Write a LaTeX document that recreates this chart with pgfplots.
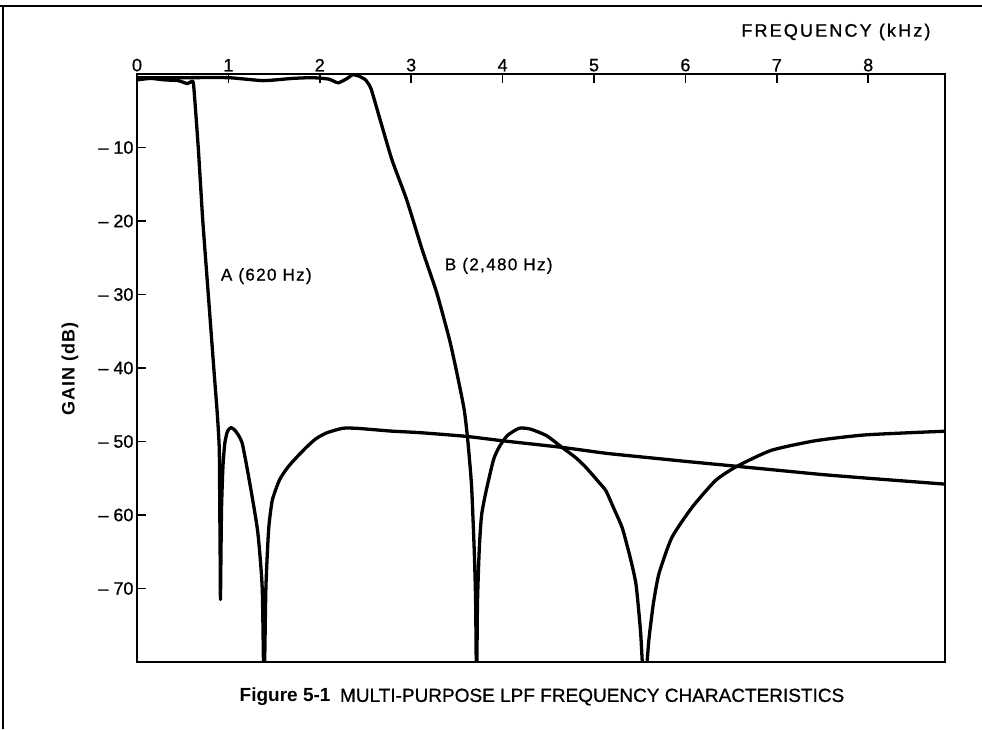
\documentclass[border=0pt]{standalone}
\usepackage{fontspec}
\setmainfont{Liberation Sans}
\newfontface\medf[FakeBold=0.8]{Liberation Sans}
\newfontface\lsA[LetterSpace=8,FakeBold=0.8]{Liberation Sans}
\newfontface\lsB[LetterSpace=6]{Liberation Sans Bold}
\newfontface\lsF[LetterSpace=12,FakeBold=1]{Liberation Sans}
\usepackage{pgfplots}
\pgfplotsset{compat=1.18}
\usepackage{pgfplotstable}
\pgfplotstableread{
f g
0 -0.8
0.15 -0.6
0.3 -0.8
0.45 -0.9
0.55 -1.3
0.6 -1.0
0.62 -1.6
0.67 -10
0.72 -20
0.78 -30
0.84 -40
0.88 -46.5
0.90 -51
0.905 -58
0.91 -66
0.913 -71.5
0.918 -66
0.925 -59
0.94 -53.5
0.96 -50.3
0.99 -48.6
1.03 -48.1
1.08 -48.6
1.15 -50.2
1.23 -55.4
1.32 -62.2
1.37 -70
1.39 -84
1.41 -70
1.44 -62
1.48 -58
1.56 -55.2
1.65 -53.5
1.75 -52.1
1.86 -50.7
1.96 -49.6
2.08 -48.8
2.25 -48.2
2.4 -48.2
2.6 -48.4
2.8 -48.6
3.1 -48.8
3.6 -49.3
4.0 -49.9
4.65 -50.8
5.13 -51.6
5.6 -52.2
6.0 -52.7
6.5 -53.3
7.0 -53.9
7.5 -54.5
8.0 -55.0
8.84 -55.8
}\curveA
\pgfplotstableread{
f g
0 -0.5
0.5 -0.5
1.0 -0.5
1.38 -0.9
1.7 -0.6
1.92 -0.5
2.1 -0.7
2.2 -1.2
2.3 -0.6
2.36 -0.1
2.43 -0.3
2.5 -0.8
2.56 -2
2.65 -5.8
2.79 -11.7
2.95 -17.1
3.12 -23.9
3.28 -29.8
3.42 -36.2
3.5 -40.7
3.58 -45.7
3.62 -50
3.66 -56
3.69 -65
3.705 -72
3.715 -84
3.725 -72
3.745 -64.5
3.77 -60
3.82 -56.7
3.9 -52.5
3.96 -50.8
4.05 -49.2
4.18 -48.2
4.3 -48.3
4.48 -49.2
4.65 -50.8
4.8 -52.2
4.91 -53.5
5.05 -55.5
5.13 -56.7
5.22 -59.2
5.31 -61.8
5.4 -66
5.46 -69.5
5.51 -76
5.55 -84
5.6 -77
5.65 -72
5.71 -68
5.85 -63.1
6.07 -59
6.33 -55.3
6.56 -53.4
6.94 -51.2
7.42 -49.9
7.97 -49.1
8.84 -48.6
}\curveB
\begin{document}
\begin{tikzpicture}[x=1pt,y=1pt]
\useasboundingbox (0,0) rectangle (982,729);
\draw[line width=1.5pt] (0,723) -- (982,723);
\draw[line width=1.5pt] (3,0) -- (3,723.75);
\begin{axis}[
  at={(137pt,67pt)}, anchor=south west,
  scale only axis, width=808pt, height=588pt,
  xmin=0, xmax=8.84, ymin=-80, ymax=0,
  xtick={0,1,...,8},
  ytick={-70,-60,...,-10},
  yticklabels={\textendash\ 70,\textendash\ 60,\textendash\ 50,\textendash\ 40,\textendash\ 30,\textendash\ 20,\textendash\ 10},
  xtick pos=right, xticklabel pos=right,
  ytick pos=left,
  tick align=inside,
  major tick length=9pt,
  every tick/.style={black, line width=1.6pt},
  axis line style={line width=2.2pt},
  /pgf/number format/assume math mode=true,
  ticklabel style={font=\medf\fontsize{18}{18}\selectfont},
  xticklabel style={yshift=-1pt},
]
\addplot[black, mark=none, line width=3.3pt, line join=round, line cap=round, smooth, tension=0.35] table[x=f,y=g] {\curveA};
\addplot[black, mark=none, line width=3.3pt, line join=round, line cap=round, smooth, tension=0.35] table[x=f,y=g] {\curveB};
\node[anchor=west, font=\lsA\fontsize{17}{17}\selectfont] at (axis cs:0.88,-27.5) {A (620 Hz)};
\node[anchor=west, font=\lsA\fontsize{17}{17}\selectfont] at (axis cs:3.33,-26.1) {B (2,480 Hz)};
\end{axis}
\node[anchor=east, font=\lsF\fontsize{18}{18}\selectfont] at (934,697) {FREQUENCY (kHz)};
\node[rotate=90, font=\lsB\fontsize{18}{18}\selectfont] at (70,360) {GAIN (dB)};
\node[font=\medf\fontsize{19}{19}\selectfont] at (542,32) {{\fontspec{Liberation Sans Bold}Figure 5-1}\enspace MULTI-PURPOSE LPF FREQUENCY CHARACTERISTICS};
\end{tikzpicture}
\end{document}
